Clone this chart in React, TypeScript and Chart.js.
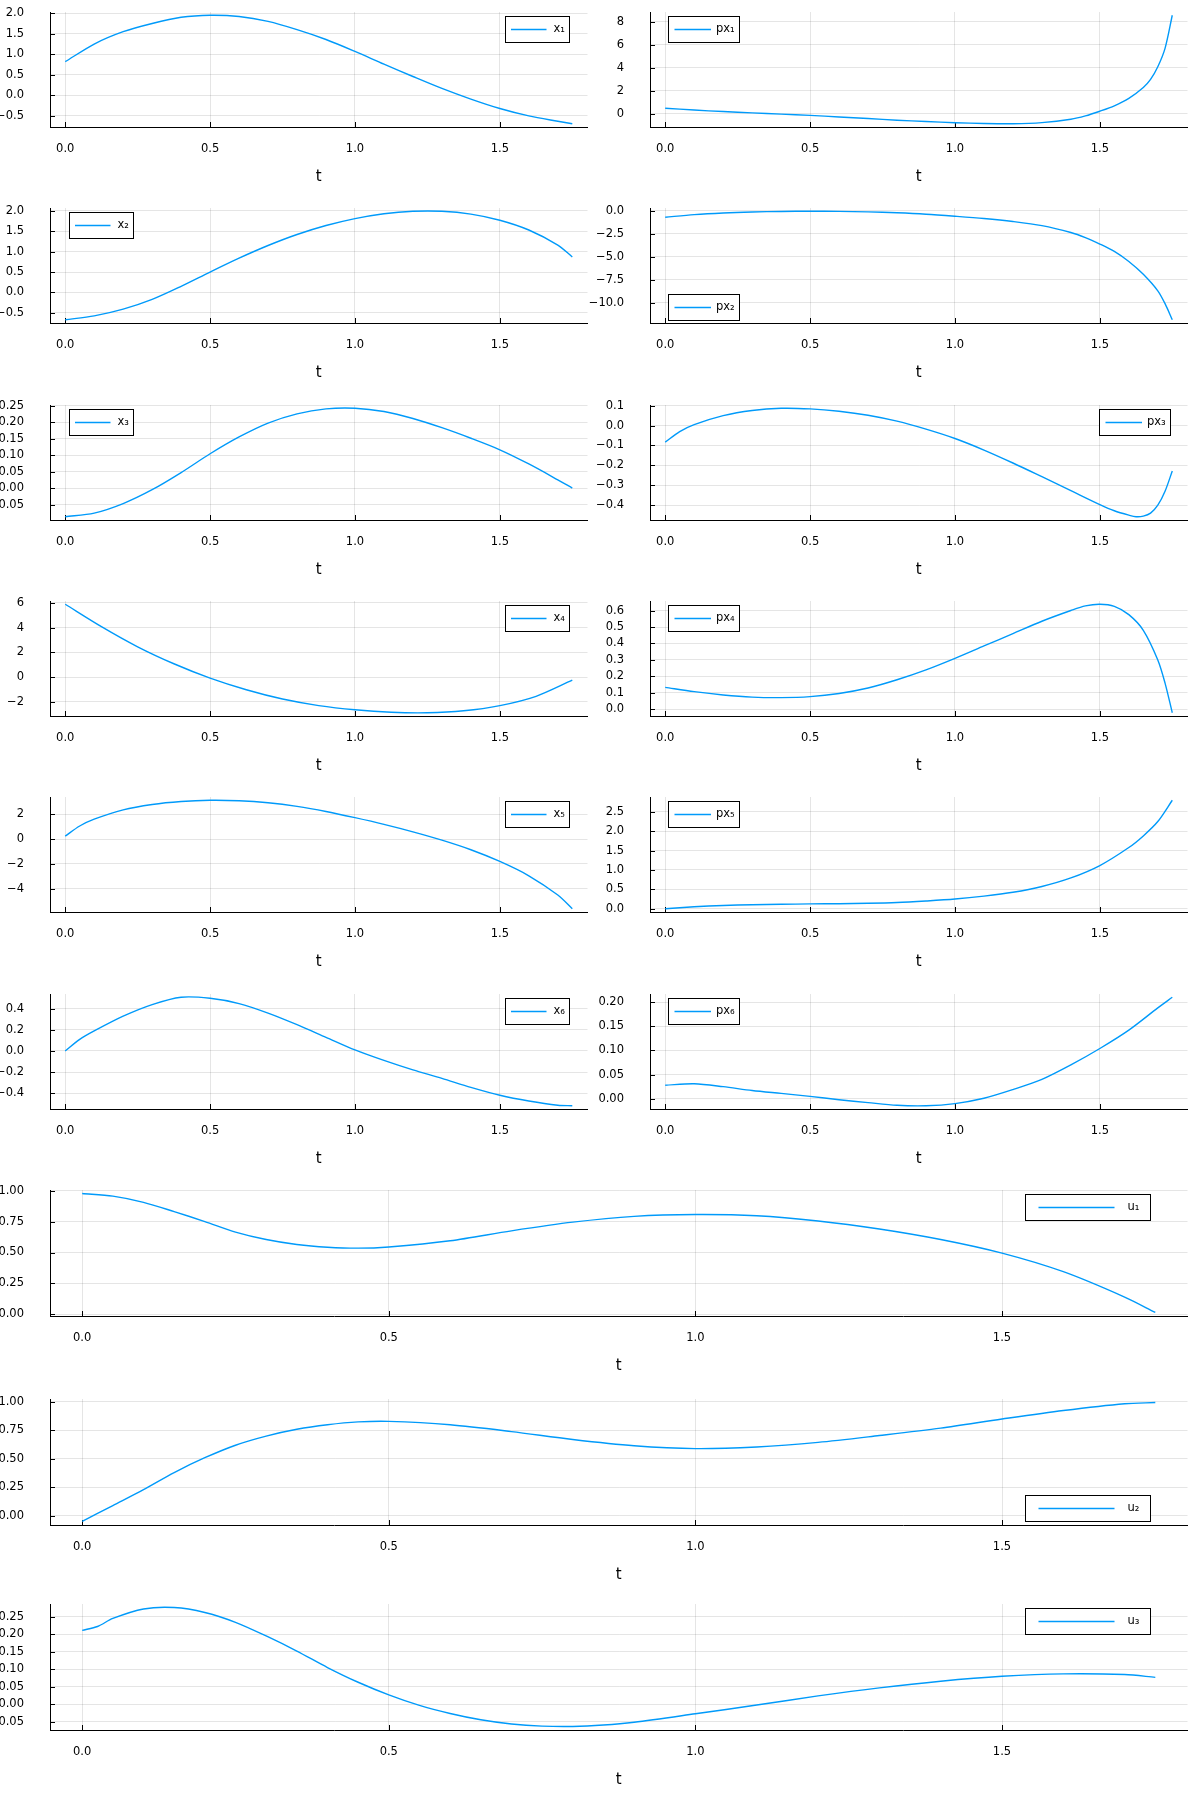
import React, { useEffect, useRef } from 'react';
import { Chart, registerables } from 'chart.js';
Chart.register(...registerables);

const FONT = "'DejaVu Sans', 'Liberation Sans', sans-serif";
const BLUE = '#009afa';

// ---------- data ----------
const tGrid = [0, 0.1, 0.2, 0.3, 0.4, 0.5, 0.6, 0.7, 0.8, 0.9, 1.0, 1.1, 1.2, 1.3, 1.4, 1.5, 1.6, 1.7, 1.75];
const tGridB = [0, 0.05, 0.1, 0.2, 0.3, 0.4, 0.5, 0.6, 0.7, 0.8, 0.9, 1.0, 1.1, 1.2, 1.3, 1.4, 1.5, 1.6, 1.7, 1.75];
const tU = [0, 0.05, 0.1, 0.15, 0.2, 0.25, 0.3, 0.35, 0.4, 0.45, 0.5, 0.6, 0.7, 0.8, 0.9, 1.0, 1.1, 1.2, 1.3, 1.4, 1.5, 1.6, 1.7, 1.75];

const x1 = [0.82, 1.25, 1.55, 1.75, 1.9, 1.95, 1.92, 1.8, 1.6, 1.36, 1.07, 0.76, 0.46, 0.17, -0.09, -0.32, -0.5, -0.63, -0.69];

const tPx1 = [0, 0.1, 0.2, 0.3, 0.4, 0.5, 0.6, 0.7, 0.8, 0.9, 1.0, 1.1, 1.2, 1.3, 1.4, 1.45, 1.5, 1.55, 1.6, 1.65, 1.675, 1.7, 1.725, 1.75];
const px1 = [0.49, 0.33, 0.2, 0.09, -0.02, -0.13, -0.27, -0.41, -0.55, -0.67, -0.77, -0.84, -0.86, -0.76, -0.47, -0.18, 0.23, 0.7, 1.35, 2.3, 3.0, 4.1, 5.7, 8.58];

const x2 = [-0.67, -0.575, -0.41, -0.17, 0.15, 0.5, 0.84, 1.15, 1.42, 1.64, 1.81, 1.93, 1.99, 1.99, 1.92, 1.77, 1.53, 1.16, 0.87];

const tPx2 = [0, 0.1, 0.2, 0.3, 0.4, 0.5, 0.6, 0.7, 0.8, 0.9, 1.0, 1.1, 1.2, 1.3, 1.4, 1.45, 1.5, 1.55, 1.6, 1.65, 1.7, 1.725, 1.75];
const px2 = [-0.68, -0.4, -0.22, -0.11, -0.05, -0.03, -0.04, -0.1, -0.2, -0.35, -0.57, -0.82, -1.15, -1.6, -2.35, -2.9, -3.6, -4.4, -5.5, -6.9, -8.7, -10.1, -11.85];

const x3 = [-0.087, -0.076, -0.047, -0.005, 0.047, 0.104, 0.155, 0.197, 0.225, 0.24, 0.242, 0.232, 0.211, 0.183, 0.151, 0.116, 0.073, 0.025, 0.0];

const tPx3 = [0, 0.05, 0.1, 0.2, 0.3, 0.4, 0.5, 0.6, 0.7, 0.8, 0.9, 1.0, 1.1, 1.2, 1.3, 1.4, 1.5, 1.55, 1.6, 1.625, 1.65, 1.675, 1.7, 1.725, 1.75];
const px3 = [-0.083, -0.03, 0.005, 0.05, 0.076, 0.087, 0.084, 0.072, 0.052, 0.022, -0.018, -0.065, -0.123, -0.188, -0.257, -0.327, -0.397, -0.428, -0.45, -0.458, -0.455, -0.44, -0.4, -0.33, -0.228];

const tX4 = [0, 0.125, 0.25, 0.375, 0.5, 0.625, 0.75, 0.875, 1.0, 1.125, 1.25, 1.375, 1.5, 1.625, 1.75];
const x4 = [5.89, 4.08, 2.45, 1.08, -0.08, -1.02, -1.77, -2.3, -2.64, -2.84, -2.88, -2.72, -2.3, -1.55, -0.25];

const tPx4 = [0, 0.1, 0.2, 0.3, 0.4, 0.5, 0.6, 0.7, 0.8, 0.9, 1.0, 1.1, 1.2, 1.3, 1.4, 1.45, 1.5, 1.55, 1.6, 1.65, 1.7, 1.725, 1.75];
const px4 = [0.134, 0.108, 0.088, 0.075, 0.072, 0.078, 0.097, 0.13, 0.18, 0.24, 0.31, 0.385, 0.46, 0.535, 0.6, 0.628, 0.638, 0.625, 0.575, 0.48, 0.3, 0.16, -0.02];

const x5 = [0.24, 1.05, 1.6, 2.35, 2.78, 3.02, 3.12, 3.08, 2.92, 2.63, 2.22, 1.72, 1.18, 0.58, -0.09, -0.86, -1.8, -2.95, -4.5, -5.6];

const tPx5 = [0, 0.1, 0.2, 0.3, 0.4, 0.5, 0.6, 0.7, 0.8, 0.9, 1.0, 1.1, 1.2, 1.3, 1.4, 1.5, 1.6, 1.65, 1.7, 1.75];
const px5 = [0.0, 0.05, 0.085, 0.105, 0.115, 0.125, 0.13, 0.14, 0.16, 0.2, 0.25, 0.325, 0.425, 0.575, 0.795, 1.115, 1.58, 1.88, 2.25, 2.8];

const x6 = [0.0, 0.11, 0.19, 0.33, 0.44, 0.51, 0.5, 0.45, 0.36, 0.25, 0.13, 0.01, -0.09, -0.18, -0.26, -0.345, -0.42, -0.475, -0.515, -0.52];

const px6 = [0.028, 0.031, 0.025, 0.017, 0.011, 0.005, -0.002, -0.008, -0.0135, -0.0145, -0.01, 0.001, 0.019, 0.04, 0.07, 0.104, 0.142, 0.188, 0.21];

const u1 = [0.976, 0.955, 0.905, 0.83, 0.75, 0.665, 0.605, 0.565, 0.543, 0.535, 0.545, 0.595, 0.675, 0.745, 0.792, 0.807, 0.797, 0.755, 0.69, 0.605, 0.495, 0.345, 0.14, 0.016];

const u2 = [-0.05, 0.09, 0.23, 0.38, 0.51, 0.62, 0.7, 0.76, 0.8, 0.825, 0.83, 0.8, 0.74, 0.67, 0.615, 0.59, 0.605, 0.645, 0.705, 0.77, 0.85, 0.925, 0.985, 0.995];

const tU3 = [0, 0.025, 0.05, 0.1, 0.15, 0.2, 0.25, 0.3, 0.35, 0.4, 0.45, 0.5, 0.55, 0.6, 0.65, 0.7, 0.75, 0.8, 0.85, 0.9, 1.0, 1.1, 1.2, 1.3, 1.4, 1.5, 1.6, 1.7, 1.75];
const u3 = [0.211, 0.222, 0.245, 0.272, 0.276, 0.262, 0.234, 0.195, 0.152, 0.105, 0.063, 0.027, -0.003, -0.026, -0.044, -0.056, -0.062, -0.063, -0.059, -0.051, -0.027, -0.002, 0.024, 0.047, 0.066, 0.08, 0.087, 0.085, 0.077];

// tick values
const xTicks = [0, 0.5, 1.0, 1.5];
const ticksA = [-0.5, 0, 0.5, 1, 1.5, 2];
const ticksPx1 = [0, 2, 4, 6, 8];
const ticksPx2 = [-10, -7.5, -5, -2.5, 0];
const ticksX3 = [-0.05, 0, 0.05, 0.1, 0.15, 0.2, 0.25];
const ticksPx3 = [-0.4, -0.3, -0.2, -0.1, 0, 0.1];
const ticksX4 = [-2, 0, 2, 4, 6];
const ticksPx4 = [0, 0.1, 0.2, 0.3, 0.4, 0.5, 0.6];
const ticksX5 = [-4, -2, 0, 2];
const ticksPx5 = [0, 0.5, 1, 1.5, 2, 2.5];
const ticksX6 = [-0.4, -0.2, 0, 0.2, 0.4];
const ticksPx6 = [0, 0.05, 0.1, 0.15, 0.2];
const ticksU = [0, 0.25, 0.5, 0.75, 1];
const ticksU3 = [-0.05, 0, 0.05, 0.1, 0.15, 0.2, 0.25];

// ---------- layout ----------
type Pos = 'tr' | 'tl' | 'bl' | 'br';
type Panel = {
  key: string; label: string; t: number[]; y: number[]; yTicks: number[]; dec: number;
  left: number; top: number; width: number; height: number; padRight: number; axisW: number;
  pos: Pos; kind: 'x' | 'px' | 'u';
};

const rowTops = [0, 196, 393, 589, 785, 982];
const uTops = [1178, 1387, 1592];
const L = { left: 0, width: 600, padRight: 12.5, height: 196, axisW: 50 };
const R = { left: 560, width: 639, padRight: 11.5, height: 196, axisW: 90 };
const U = { left: 0, width: 1199, padRight: 11.5, height: 207, axisW: 50 };

const panels: Panel[] = [
  { key: 'x1', label: 'x₁', t: tGrid, y: x1, yTicks: ticksA, dec: 1, ...L, top: rowTops[0], pos: 'tr', kind: 'x' },
  { key: 'px1', label: 'px₁', t: tPx1, y: px1, yTicks: ticksPx1, dec: 0, ...R, top: rowTops[0], pos: 'tl', kind: 'px' },
  { key: 'x2', label: 'x₂', t: tGrid, y: x2, yTicks: ticksA, dec: 1, ...L, top: rowTops[1], pos: 'tl', kind: 'x' },
  { key: 'px2', label: 'px₂', t: tPx2, y: px2, yTicks: ticksPx2, dec: 1, ...R, top: rowTops[1], pos: 'bl', kind: 'px' },
  { key: 'x3', label: 'x₃', t: tGrid, y: x3, yTicks: ticksX3, dec: 2, ...L, top: rowTops[2], pos: 'tl', kind: 'x' },
  { key: 'px3', label: 'px₃', t: tPx3, y: px3, yTicks: ticksPx3, dec: 1, ...R, top: rowTops[2], pos: 'tr', kind: 'px' },
  { key: 'x4', label: 'x₄', t: tX4, y: x4, yTicks: ticksX4, dec: 0, ...L, top: rowTops[3], pos: 'tr', kind: 'x' },
  { key: 'px4', label: 'px₄', t: tPx4, y: px4, yTicks: ticksPx4, dec: 1, ...R, top: rowTops[3], pos: 'tl', kind: 'px' },
  { key: 'x5', label: 'x₅', t: tGridB, y: x5, yTicks: ticksX5, dec: 0, ...L, top: rowTops[4], pos: 'tr', kind: 'x' },
  { key: 'px5', label: 'px₅', t: tPx5, y: px5, yTicks: ticksPx5, dec: 1, ...R, top: rowTops[4], pos: 'tl', kind: 'px' },
  { key: 'x6', label: 'x₆', t: tGridB, y: x6, yTicks: ticksX6, dec: 1, ...L, top: rowTops[5], pos: 'tr', kind: 'x' },
  { key: 'px6', label: 'px₆', t: tGrid, y: px6, yTicks: ticksPx6, dec: 2, ...R, top: rowTops[5], pos: 'tl', kind: 'px' },
  { key: 'u1', label: 'u₁', t: tU, y: u1, yTicks: ticksU, dec: 2, ...U, top: uTops[0], pos: 'tr', kind: 'u' },
  { key: 'u2', label: 'u₂', t: tU, y: u2, yTicks: ticksU, dec: 2, ...U, top: uTops[1], pos: 'br', kind: 'u' },
  { key: 'u3', label: 'u₃', t: tU3, y: u3, yTicks: ticksU3, dec: 2, ...U, top: uTops[2], pos: 'tr', kind: 'u' },
];

const legendStyle = {
  x: { w: 64, dx: 18.5, dy: 3.5, ls: 5.5, ll: 35.5, tx: 48 },
  px: { w: 71, dx: 17.5, dy: 3.5, ls: 6, ll: 36.5, tx: 47.5 },
  u: { w: 125, dx: 37.5, dy: 3.8, ls: 13, ll: 76, tx: 102 },
};

const fmt = (v: number, d: number) => (v < 0 ? '−' : '') + Math.abs(v).toFixed(d);

function makeChart(canvas: HTMLCanvasElement, p: Panel) {
  const ymin = Math.min(...p.y);
  const ymax = Math.max(...p.y);
  const pad = (ymax - ymin) * 0.03;
  const tmin = Math.min(...p.t);
  const tmax = Math.max(...p.t);
  const tpad = (tmax - tmin) * 0.03;
  const ls = legendStyle[p.kind];

  const innerTicks = {
    id: 'innerTicks',
    beforeDatasetsDraw(chart: any) {
      const { ctx, chartArea: a, scales } = chart;
      ctx.save();
      ctx.strokeStyle = '#000';
      ctx.lineWidth = 1;
      ctx.beginPath();
      scales.x.ticks.forEach((tk: any) => {
        const px = Math.round(scales.x.getPixelForValue(tk.value)) + 0.5;
        ctx.moveTo(px, a.bottom);
        ctx.lineTo(px, a.bottom - 5);
      });
      scales.y.ticks.forEach((tk: any) => {
        const py = Math.round(scales.y.getPixelForValue(tk.value)) + 0.5;
        ctx.moveTo(a.left, py);
        ctx.lineTo(a.left + 5, py);
      });
      ctx.stroke();
      ctx.restore();
    },
  };

  const boxLegend = {
    id: 'boxLegend',
    afterDraw(chart: any) {
      const { ctx, chartArea: a } = chart;
      const h = 26;
      let left = p.pos[1] === 'r' ? a.right - ls.dx - ls.w : a.left + ls.dx;
      let top = p.pos[0] === 't' ? a.top + ls.dy : a.bottom - ls.dy - h;
      left = Math.round(left) + 0.5;
      top = Math.round(top) + 0.5;
      ctx.save();
      ctx.fillStyle = '#fff';
      ctx.fillRect(left, top, ls.w, h);
      ctx.strokeStyle = '#000';
      ctx.lineWidth = 1;
      ctx.strokeRect(left, top, ls.w, h);
      const cy = top + h / 2;
      ctx.strokeStyle = BLUE;
      ctx.lineWidth = 1.4;
      ctx.beginPath();
      ctx.moveTo(left + ls.ls, cy);
      ctx.lineTo(left + ls.ls + ls.ll, cy);
      ctx.stroke();
      ctx.fillStyle = '#000';
      ctx.font = `11.5px ${FONT}`;
      ctx.textBaseline = 'middle';
      ctx.textAlign = 'left';
      ctx.fillText(p.label, left + ls.tx, cy);
      ctx.restore();
    },
  };

  const tickFont = { family: FONT, size: 11.5 };
  const border = { display: true, color: '#000', width: 1 };

  return new Chart(canvas, {
    type: 'line',
    data: {
      datasets: [
        {
          label: p.label,
          data: p.t.map((t, i) => ({ x: t, y: p.y[i] })),
          borderColor: BLUE,
          borderWidth: 1.4,
          pointRadius: 0,
          fill: false,
          tension: 0.3,
          cubicInterpolationMode: 'default',
        },
      ],
    },
    options: {
      animation: false,
      responsive: false,
      maintainAspectRatio: false,
      events: [],
      layout: { padding: { top: 12, right: p.padRight, left: 0, bottom: 0 } },
      plugins: { legend: { display: false }, tooltip: { enabled: false } },
      scales: {
        x: {
          type: 'linear',
          min: tmin - tpad,
          max: tmax + tpad,
          afterBuildTicks: (s: any) => { s.ticks = xTicks.map((v) => ({ value: v })); },
          afterFit: (s: any) => { s.height = 69; },
          grid: { color: 'rgba(0,0,0,0.1)', lineWidth: 1, drawTicks: true, tickLength: 15, tickColor: 'rgba(0,0,0,0)' },
          border,
          ticks: {
            padding: 0,
            font: tickFont,
            color: '#000',
            autoSkip: false,
            maxRotation: 0,
            minRotation: 0,
            callback: (_v: any, i: number) => fmt(xTicks[i], 1),
          },
          title: { display: true, text: 't', color: '#000', font: { family: FONT, size: 15 }, padding: { top: 0, bottom: 10 } },
        },
        y: {
          type: 'linear',
          min: ymin - pad,
          max: ymax + pad,
          afterBuildTicks: (s: any) => { s.ticks = p.yTicks.map((v) => ({ value: v })); },
          afterFit: (s: any) => { s.width = p.axisW; },
          grid: { color: 'rgba(0,0,0,0.1)', lineWidth: 1, drawTicks: true, tickLength: 26, tickColor: 'rgba(0,0,0,0)' },
          border,
          ticks: {
            padding: 0,
            font: tickFont,
            color: '#000',
            autoSkip: false,
            callback: (_v: any, i: number) => fmt(p.yTicks[i], p.dec),
          },
        },
      },
    } as any,
    plugins: [innerTicks, boxLegend],
  });
}

function PanelChart({ p }: { p: Panel }) {
  const ref = useRef<HTMLCanvasElement>(null);
  useEffect(() => {
    if (!ref.current) return;
    const chart = makeChart(ref.current, p);
    return () => chart.destroy();
  }, [p]);
  return (
    <canvas
      ref={ref}
      width={p.width}
      height={p.height}
      style={{ position: 'absolute', left: p.left, top: p.top, width: p.width, height: p.height }}
    />
  );
}

export default function App() {
  useEffect(() => {
    document.body.style.margin = '0';
    document.body.style.background = '#fff';
  }, []);
  return (
    <div style={{ position: 'relative', width: 1199, height: 1799, background: '#fff', overflow: 'hidden' }}>
      {panels.map((p) => (
        <PanelChart key={p.key} p={p} />
      ))}
    </div>
  );
}
